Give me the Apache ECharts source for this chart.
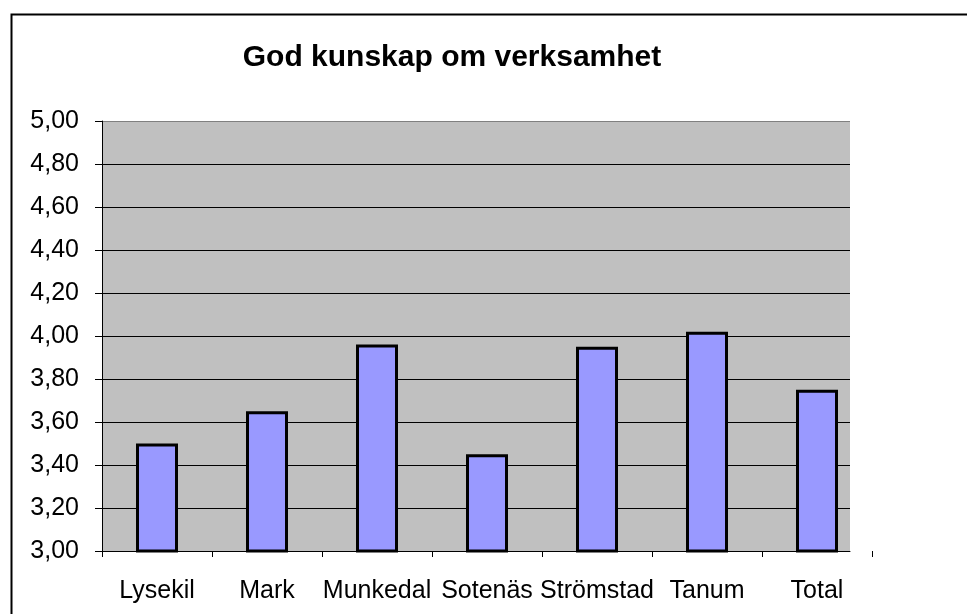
<!DOCTYPE html>
<html>
<head>
<meta charset="utf-8">
<script src="https://cdn.jsdelivr.net/npm/echarts@6/dist/echarts.min.js"></script>
<style>
html,body{margin:0;padding:0;background:#fff;}
#chart{width:967px;height:614px;}
</style>
</head>
<body>
<div id="chart"></div>
<script>
var titleText = 'God kunskap om verksamhet';
var categories = ['Lysekil', 'Mark', 'Munkedal', 'Sotenäs', 'Strömstad', 'Tanum', 'Total'];
var values = [3.50, 3.65, 3.96, 3.45, 3.95, 4.02, 3.75];
var yMin = 3.0, yMax = 5.0, yStep = 0.2;

var chart = echarts.init(document.getElementById('chart'));
var font = 'Liberation Sans, Arial, sans-serif';
var splitColors = [];
for (var i = 0; i < 11; i++) splitColors.push(i === 10 ? '#808080' : '#000000');

chart.setOption({
  backgroundColor: '#ffffff',
  animation: false,
  title: {
    text: titleText,
    left: 447, textAlign: 'center',
    top: 38,
    textStyle: { fontFamily: font, fontSize: 30, fontWeight: 'bold', color: '#000' }
  },
  graphic: [{
    type: 'rect', left: 9, top: 12, silent: true,
    shape: { width: 1000, height: 700 },
    style: { fill: null, stroke: '#000', lineWidth: 2 }
  }],
  grid: [
    { left: 102, right: 117, top: 121, bottom: 63, show: true, backgroundColor: '#C0C0C0', borderWidth: 0 },
    { left: 102, right: 95, top: 121, bottom: 63 }
  ],
  xAxis: [
    { type: 'category', gridIndex: 0, data: categories,
      axisLine: { show: true, lineStyle: { color: '#000', width: 1 } },
      axisTick: { show: false }, axisLabel: { show: false } },
    { type: 'category', gridIndex: 1, data: categories,
      axisLine: { show: false },
      axisTick: { show: true, interval: 0, length: 6, lineStyle: { color: '#000' } },
      axisLabel: { interval: 0, hideOverlap: false, fontFamily: font, fontSize: 25, color: '#000', margin: 28 } }
  ],
  yAxis: [
    { type: 'value', gridIndex: 0, min: yMin, max: yMax, interval: yStep,
      axisLine: { show: true, lineStyle: { color: '#000', width: 1 } },
      axisTick: { show: true, length: 7, lineStyle: { color: '#000' } },
      axisLabel: { fontFamily: font, fontSize: 25, color: '#000', margin: 23,
        formatter: function (v) { return v.toFixed(2).replace('.', ','); } },
      splitLine: { show: true, lineStyle: { color: splitColors, width: 1 } } },
    { type: 'value', gridIndex: 1, min: yMin, max: yMax, interval: yStep, show: false }
  ],
  series: [{
    type: 'bar', xAxisIndex: 1, yAxisIndex: 1,
    data: values, barWidth: 42,
    itemStyle: { color: '#9999FF', borderColor: '#000', borderWidth: 3 }
  }]
});
</script>
</body>
</html>
